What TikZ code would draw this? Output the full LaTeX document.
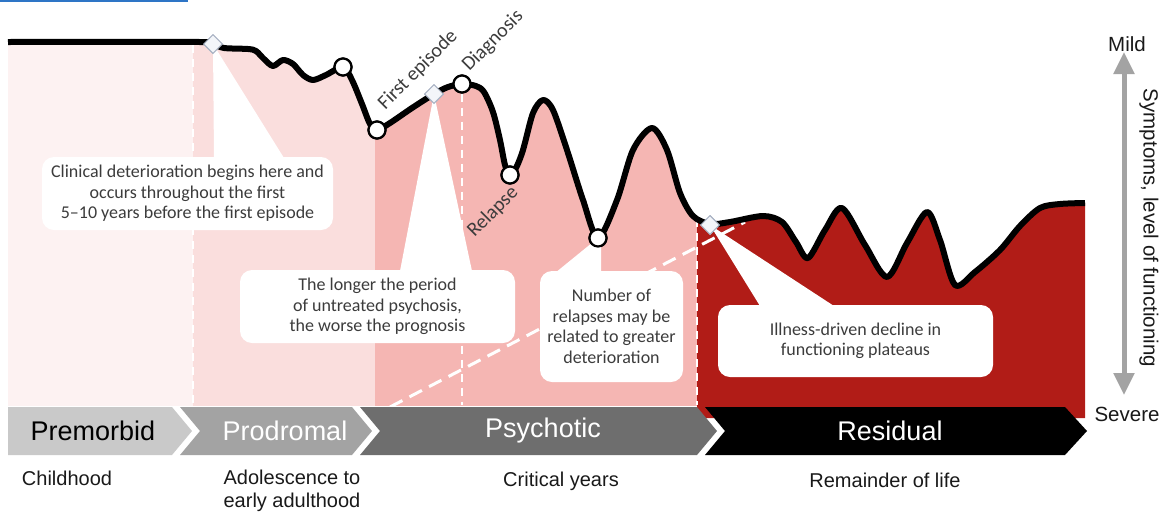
\documentclass[tikz,border=0pt]{standalone}
\usepackage{fontspec}
\setmainfont{Carlito}
\newfontfamily\arialfont{Liberation Sans}
\usetikzlibrary{arrows.meta,shapes.geometric}

\definecolor{premorbidbg}{HTML}{FDF2F2}
\definecolor{prodromalbg}{HTML}{FADEDD}
\definecolor{psychoticbg}{HTML}{F5B6B3}
\definecolor{residualbg}{HTML}{B11C17}
\definecolor{stagea}{HTML}{C9C9C9}
\definecolor{stageb}{HTML}{A3A3A3}
\definecolor{stagec}{HTML}{6E6E6E}
\definecolor{axisgrey}{HTML}{A3A3A3}
\definecolor{diamondfill}{HTML}{F3F5F9}
\definecolor{diamondedge}{HTML}{A9B2C3}
\definecolor{linkblue}{HTML}{2E75C6}
\definecolor{callouttext}{HTML}{3C3C3C}

% course of functioning over time (y grows downwards = more severe)
\newcommand{\lifecurve}[1]{\path[#1] plot[smooth,tension=0.5] coordinates {
  (8,42) (200,42) (213,44) (224,48) (248,49) (256,51) (264,59) (273,66)
  (283,60) (293,64) (303,75) (313,80) (326,75) (343,67) (352,80) (362,104)
  (370,124) (377,130) (390,123) (412,108) (434,94) (448,87) (462,84)
  (476,86) (484,92) (493,112) (500,140) (505,165) (510,175) (516,168)
  (523,150) (533,113) (543,100) (553,110) (567,150) (583,200) (598,238)
  (617,200) (633,150) (652,128) (667,150) (680,193) (693,216) (710,224)
  (730,222) (763,216) (782,222) (796,242) (808,258) (825,230) (842,208)
  (865,245) (887,277) (907,243) (927,212) (940,240) (955,285) (975,272)
  (1000,250) (1020,226) (1040,208) (1060,204) (1085,203)}}

\tikzset{
  curveline/.style={draw=black,line width=6pt,line join=round},
  sepline/.style={draw=white,line width=2.5pt,dash pattern=on 8pt off 6pt},
  trendline/.style={draw=white,line width=3pt,dash pattern=on 14pt off 8pt},
  ptcircle/.style={circle,draw=black,fill=white,line width=2.2pt,minimum size=17pt,inner sep=0pt},
  ptdiamond/.style={diamond,draw=diamondedge,fill=diamondfill,line width=1pt,minimum size=19pt,inner sep=0pt},
  callout/.style={fill=white,rounded corners=12pt,align=center,text=callouttext,
    font=\fontsize{18}{20.5}\selectfont,inner sep=0pt},
  pointer/.style={fill=white},
  eventlabel/.style={text=callouttext,font=\fontsize{20}{22}\selectfont,rotate=45},
  stagelabel/.style={font=\arialfont\fontsize{27}{30}\selectfont},
  agelabel/.style={font=\arialfont\fontsize{20}{23}\selectfont,align=center,text=black!90},
  axislabel/.style={font=\arialfont\fontsize{20.5}{23}\selectfont,text=black!90},
}

\begin{document}
\begin{tikzpicture}[x=1pt,y=-1pt]
\useasboundingbox (0,0) rectangle (1163,515);

% link underline at the top edge
\draw[linkblue,line width=2pt] (0,1) -- (188,1);

% coloured phases under the curve
\begin{scope}
  \clip (8,0) rectangle (193,405);
  \lifecurve{fill=premorbidbg} -- (1085,418) -- (8,418) -- cycle;
\end{scope}
\begin{scope}
  \clip (193,0) rectangle (375,405);
  \lifecurve{fill=prodromalbg} -- (1085,418) -- (8,418) -- cycle;
\end{scope}
\begin{scope}
  \clip (375,0) rectangle (697,405);
  \lifecurve{fill=psychoticbg} -- (1085,418) -- (8,418) -- cycle;
\end{scope}
\begin{scope}
  \clip (697,0) rectangle (1085,418);
  \lifecurve{fill=residualbg} -- (1085,418) -- (8,418) -- cycle;
\end{scope}

% markers on the curve
\node[ptdiamond] (onset)  at (213,44) {};
\node[ptdiamond] (untreated) at (434,94) {};
\node[ptdiamond] (plateau) at (710,225) {};
\node[ptcircle] (c1) at (343,67) {};
\node[ptcircle] (firstep) at (377,130) {};
\node[ptcircle] (diag) at (462,84) {};
\node[ptcircle] (relapse) at (510,175) {};
\node[ptcircle] (trough) at (598,238) {};

% dashed guides
\coordinate (gA) at (193,405);
\coordinate (gB) at (462,405);
\coordinate (gC) at (697,405);
\coordinate (trendstart) at (390,407);
\coordinate (trendend) at (745,222);
\draw[sepline] (193,45) -- (gA);
\draw[sepline] (diag.south) -- (gB);
\draw[sepline] (697,219) -- (gC);
\draw[trendline] (trendstart) -- (trendend);

% callouts
\node[callout,minimum width=291pt,minimum height=73pt] (box1) at (187.5,193.5)
  {Clinical deterioration begins here and\\occurs throughout the first\\5--10 years before the first episode};
\node[callout,minimum width=275pt,minimum height=73pt] (box2) at (377.5,306.5)
  {The longer the period\\of untreated psychosis,\\the worse the prognosis};
\node[callout,minimum width=143pt,minimum height=111pt] (box3) at (611.5,326.5)
  {Number of\\relapses may be\\related to greater\\deterioration};
\node[callout,minimum width=275pt,minimum height=72pt] (box4) at (855.5,341)
  {Illness-driven decline in\\functioning plateaus};

\fill[pointer] (onset.center) -- (214,158) -- (284,158) -- cycle;
\fill[pointer] (untreated.center) -- (400,271) -- (472,271) -- cycle;
\fill[pointer] (trough.center) -- (555,273) -- (601,273) -- (601,245) -- cycle;
\fill[pointer] (plateau.center) -- (760,306) -- (834,306) -- cycle;

% course line and its markers on top
\lifecurve{curveline};
\node[ptdiamond] at (onset) {};
\node[ptdiamond] at (untreated) {};
\node[ptdiamond] at (plateau) {};
\node[ptcircle] at (c1) {};
\node[ptcircle] at (firstep) {};
\node[ptcircle] at (diag) {};
\node[ptcircle] at (relapse) {};
\node[ptcircle] at (trough) {};

\node[eventlabel] (lblfirst) at (418,70) {First episode};
\node[eventlabel] (lbldiag) at (493,41) {Diagnosis};
\node[eventlabel] (lblrelapse) at (493,212) {Relapse};

% stage chevrons
\fill[stagea] (8,407) -- (172,407) -- (192,431) -- (172,455) -- (8,455) -- cycle;
\fill[stageb] (180,407) -- (352,407) -- (372,431) -- (352,455) -- (180,455) -- (200,431) -- cycle;
\fill[stagec] (360,407) -- (697,407) -- (717,431) -- (697,455) -- (360,455) -- (380,431) -- cycle;
\fill[black] (705,407) -- (1065,407) -- (1087,431) -- (1065,455) -- (705,455) -- (725,431) -- cycle;

\node[stagelabel,text=black] (premorbid) at (93,431) {Premorbid};
\node[stagelabel,text=white] (prodromal) at (285,431) {Prodromal};
\node[stagelabel,text=white] (psychotic) at (543,431) {Psychotic};
\node[stagelabel,text=white] (residual) at (890,431) {Residual};

\node[agelabel] (childhood) at (67,478) {Childhood};
\node[agelabel] (adolescence) at (292,491) {Adolescence to\\early adulthood};
\node[agelabel] (critical) at (561,481) {Critical years};
\node[agelabel] (remainder) at (885,480) {Remainder of life};

% severity axis
\node[axislabel] (mild) at (1127,44) {Mild};
\node[axislabel] (severe) at (1127,414) {Severe};
\coordinate (axtop) at (1124,52);
\coordinate (axbot) at (1124,395);
\draw[axisgrey,line width=5pt,{Triangle[width=20pt,length=22pt]}-{Triangle[width=20pt,length=22pt]}] (axtop) -- (axbot);
\node[axislabel,rotate=-90] (axisname) at (1149,228) {Symptoms, level of functioning};
\end{tikzpicture}
\end{document}
